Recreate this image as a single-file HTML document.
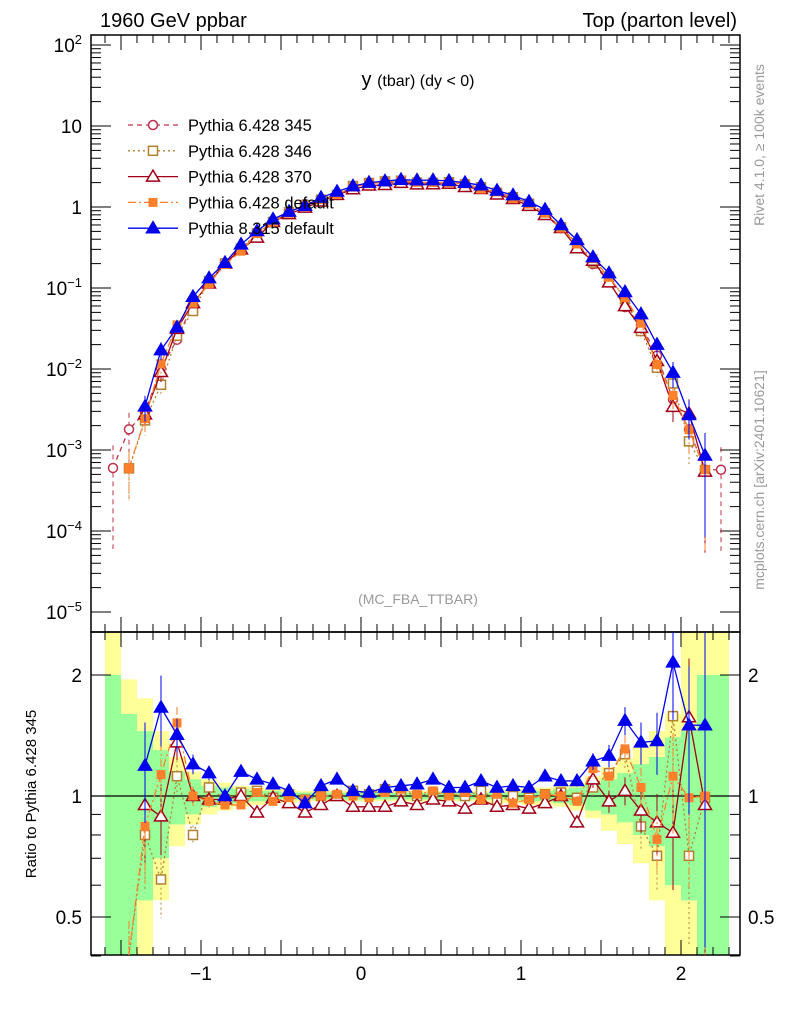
<!DOCTYPE html>
<html><head><meta charset="utf-8"><style>
body{margin:0;background:#fff;width:786px;height:1024px;overflow:hidden}
svg{font-family:"Liberation Sans",sans-serif}
</style></head><body>
<svg id="plot" width="786" height="1024" viewBox="0 0 786 1024" xmlns="http://www.w3.org/2000/svg">
<text x="100" y="27" font-size="20">1960 GeV ppbar</text>
<text x="737" y="27" font-size="20" text-anchor="end">Top (parton level)</text>
<text x="418" y="86" font-size="20" text-anchor="middle">y <tspan font-size="16">(tbar) (dy &lt; 0)</tspan></text>
<text x="418" y="604" font-size="14" fill="#999" text-anchor="middle">(MC_FBA_TTBAR)</text>
<text transform="translate(764,145) rotate(-90)" font-size="14" fill="#999" text-anchor="middle">Rivet 4.1.0, ≥ 100k events</text>
<text transform="translate(764,480) rotate(-90)" font-size="14" fill="#999" text-anchor="middle">mcplots.cern.ch [arXiv:2401.10621]</text>
<text transform="translate(36,794) rotate(-90)" font-size="15" text-anchor="middle">Ratio to Pythia 6.428 345</text>
<g id="bands"></g><g id="axes"></g><g id="series"></g><g id="legend"></g>
</svg>
<script>
const bins=[-1.55,-1.45,-1.35,-1.25,-1.15,-1.05,-0.95,-0.85,-0.75,-0.65,-0.55,-0.45,-0.35,-0.25,-0.15,-0.05,0.05,0.15,0.25,0.35,0.45,0.55,0.65,0.75,0.85,0.95,1.05,1.15,1.25,1.35,1.45,1.55,1.65,1.75,1.85,1.95,2.05,2.15,2.25];
const refValues=[6e-4,1.8e-3,2.9e-3,0.0103,0.023,0.065,0.116,0.205,0.30,0.46,0.66,0.85,1.08,1.23,1.41,1.76,1.96,1.99,2.05,2.0,1.95,2.0,1.9,1.7,1.52,1.32,1.11,0.83,0.55,0.36,0.197,0.121,0.058,0.035,0.0146,0.0042,0.0018,5.7e-4,5.7e-4];
const ratio346=[null,0.33,0.80,0.62,1.12,0.80,1.05,0.98,1.02,1.03,0.99,1.01,0.98,1.0,1.0,1.03,1.01,1.04,1.03,1.0,1.02,1.01,1.0,1.03,0.98,1.0,0.99,1.01,1.02,0.99,1.05,1.14,1.27,0.84,0.71,1.58,0.71,0.99,null];
const ratio370=[null,null,0.95,0.89,1.36,1.0,0.98,0.98,1.0,0.91,0.99,0.96,0.91,0.95,1.0,0.94,0.94,0.94,0.97,0.95,0.98,0.97,0.93,0.98,0.94,0.95,0.93,0.96,1.0,0.86,1.10,0.97,1.03,0.92,0.86,0.81,1.57,0.95,null];
const ratioDef6=[null,0.33,0.84,1.13,1.52,1.0,0.97,0.95,0.95,1.02,0.97,0.99,0.98,1.0,1.01,1.0,0.99,1.02,1.04,1.01,1.03,1.0,1.02,0.98,1.01,0.96,0.98,1.01,1.0,0.97,1.17,1.12,1.31,1.05,0.78,1.12,0.99,1.0,null];
const ratioP8=[null,null,1.19,1.66,1.42,1.20,1.14,1.0,1.15,1.10,1.07,1.03,0.96,1.06,1.10,1.03,1.02,1.05,1.06,1.07,1.10,1.05,1.05,1.09,1.05,1.06,1.05,1.12,1.09,1.09,1.22,1.26,1.54,1.36,1.37,2.15,1.5,1.5,null];
const relErr=[0.9,0.6,0.35,0.25,0.12,0.07,0.05,0.04,0.03,0.025,0.02,0.02,0.02,0.02,0.02,0.02,0.02,0.02,0.02,0.02,0.02,0.02,0.02,0.02,0.02,0.025,0.03,0.03,0.03,0.04,0.06,0.08,0.1,0.15,0.22,0.35,0.5,0.9,0.9];
const greenHi=[2.0,1.6,1.45,1.3,1.15,1.1,1.06,1.05,1.04,1.03,1.03,1.02,1.02,1.02,1.02,1.02,1.02,1.02,1.02,1.02,1.02,1.02,1.02,1.02,1.02,1.02,1.03,1.03,1.04,1.05,1.08,1.1,1.14,1.2,1.25,1.4,1.45,2.0,2.0];
const yellowHi=[2.6,1.95,1.75,1.45,1.25,1.15,1.1,1.08,1.06,1.05,1.04,1.04,1.03,1.03,1.03,1.03,1.03,1.03,1.03,1.03,1.03,1.03,1.03,1.03,1.04,1.04,1.05,1.05,1.06,1.08,1.12,1.18,1.24,1.32,1.45,1.6,2.6,2.6,2.6];
const mainTicks=[{v:100,t:"10",e:"2"},{v:10,t:"10",e:""},{v:1,t:"1",e:""},{v:0.1,t:"10",e:"−1"},{v:0.01,t:"10",e:"−2"},{v:0.001,t:"10",e:"−3"},{v:1e-4,t:"10",e:"−4"},{v:1e-5,t:"10",e:"−5"}];
const ratioTicks=[2,1,0.5];
const xTicks=[-1,0,1,2];

const NS="http://www.w3.org/2000/svg";
const L=91,R=740,T=35,MB=632,RB=955;
const X=x=>361+160*x;
const Y=v=>207-81*Math.log10(v);
const RY=r=>796-402*Math.log10(r);
function mk(p,tag,at){const e=document.createElementNS(NS,tag);for(const k in at)e.setAttribute(k,at[k]);p.appendChild(e);return e;}
const bandsG=document.getElementById('bands'),axesG=document.getElementById('axes'),serG=document.getElementById('series'),legG=document.getElementById('legend');
function clampR(y){return Math.max(MB,Math.min(RB,y));}
bins.forEach((b,i)=>{
 const x0=X(b-0.05),x1=X(b+0.05);
 const yl=2-yellowHi[i],gl=2-greenHi[i];
 const y1=clampR(RY(yellowHi[i])),y2=yl>0?clampR(RY(yl)):RB;
 const r=mk(bandsG,'rect',{x:x0,y:y1,width:x1-x0,height:y2-y1,fill:'#ffff99'});
 
 
 const g1=clampR(RY(greenHi[i])),g2=gl>0?clampR(RY(gl)):RB;
 const g=mk(bandsG,'rect',{x:x0,y:g1,width:x1-x0,height:g2-g1,fill:'#99ff99'});
 
 
});
[[T,MB],[MB,RB]].forEach(([a,b])=>{const f=mk(axesG,'rect',{x:L,y:a,width:R-L,height:b-a,fill:'none',stroke:'#000','stroke-width':1.5});
});
mk(axesG,'line',{x1:L,x2:R,y1:RY(1),y2:RY(1),stroke:'#000','stroke-width':1.2});
for(let d=-5;d<=2;d++){for(let m=1;m<10;m++){const v=m*Math.pow(10,d);const y=Y(v);if(y<T||y>MB)continue;const len=m==1?20:10;
mk(axesG,'line',{x1:L,x2:L+len,y1:y,y2:y,stroke:'#000'});mk(axesG,'line',{x1:R,x2:R-len,y1:y,y2:y,stroke:'#000'});}}
mainTicks.forEach(t=>{const y=Y(t.v);const tx=mk(axesG,'text',{x:82,y:y+7,'font-size':19,'text-anchor':'end'});

if(t.e){tx.textContent=t.t;const s=mk(tx,'tspan',{dy:-8,'font-size':13});s.textContent=t.e;}else tx.textContent=t.t;});
[0.4,0.5,0.6,0.7,0.8,0.9,1,2].forEach(v=>{const y=RY(v);const len=(v==0.5||v==1||v==2)?20:10;
mk(axesG,'line',{x1:L,x2:L+len,y1:y,y2:y,stroke:'#000'});mk(axesG,'line',{x1:R,x2:R-len,y1:y,y2:y,stroke:'#000'});});
ratioTicks.forEach(v=>{const y=RY(v)+7;[[82,'end'],[748,'start']].forEach(([x,a])=>{const t=mk(axesG,'text',{x:x,y:y,'font-size':19,'text-anchor':a});t.textContent=String(v);
});});
for(let k=-17;k<=23;k++){const x=X(k/10);if(x<L||x>R)continue;const len=k%5==0?15:8;
[[T,1],[MB,-1],[MB,1],[RB,-1]].forEach(([y0,s])=>mk(axesG,'line',{x1:x,x2:x,y1:y0,y2:y0+s*len,stroke:'#000'}));}
xTicks.forEach(v=>{const t=mk(axesG,'text',{x:X(v),y:980,'font-size':19,'text-anchor':'middle'});t.textContent=v<0?'−'+(-v):String(v);
});
const series=[
 {name:'pythia-6428-345',label:'Pythia 6.428 345',ratio:bins.map((b,i)=>refValues[i]!=null?1:null),col:'#c0304a',dash:'5,4',m:'circle'},
 {name:'pythia-6428-346',label:'Pythia 6.428 346',ratio:ratio346,col:'#b08030',dash:'2,3',m:'square'},
 {name:'pythia-6428-370',label:'Pythia 6.428 370',ratio:ratio370,col:'#a00018',dash:'',m:'triangle'},
 {name:'pythia-6428-default',label:'Pythia 6.428 default',ratio:ratioDef6,col:'#ff7f2a',dash:'8,3,2,3',m:'fsquare'},
 {name:'pythia-8315-default',label:'Pythia 8.315 default',ratio:ratioP8,col:'#0000ee',dash:'',m:'ftriangle'}];
function marker(g,type,x,y,c){
 if(type=='circle')return mk(g,'circle',{cx:x,cy:y,r:4.5,fill:'#fff',stroke:c,'stroke-width':1.5});
 if(type=='square')return mk(g,'rect',{x:x-4.5,y:y-4.5,width:9,height:9,fill:'#fff',stroke:c,'stroke-width':1.5});
 if(type=='fsquare')return mk(g,'rect',{x:x-4.5,y:y-4.5,width:9,height:9,fill:c});
 const p=`${x},${y-6.5} ${x+6.5},${y+4.5} ${x-6.5},${y+4.5}`;
 return mk(g,'polygon',{points:p,fill:type=='ftriangle'?c:'#fff',stroke:c,'stroke-width':1.5});}
function clip(y,a,b){return Math.max(a,Math.min(b,y));}
series.forEach((s,si)=>{
 const g=mk(serG,'g',{});
 const mp=[],rp=[];
 bins.forEach((b,i)=>{const r=s.ratio[i];if(r==null)return;const v=refValues[i]*r;const x=X(b);
  const e=relErr[i];const ym=Y(v),yu=Y(v*(1+e)),yd=v*(1-e)>0?Y(v*(1-e)):MB;
  mk(g,'line',{x1:x,x2:x,y1:clip(yu,T,MB),y2:clip(yd,T,MB),stroke:s.col,'stroke-dasharray':s.dash});
  mp.push([x,ym]);
  const ry=RY(r),ru=RY(r*(1+e*0.8)),rd=r*(1-e*0.8)>0?RY(r*(1-e*0.8)):RB;
  if(si>0){mk(g,'line',{x1:x,x2:x,y1:clip(ru,MB,RB),y2:clip(rd,MB,RB),stroke:s.col,'stroke-dasharray':s.dash});}
  rp.push([x,ry]);});
 mk(g,'polyline',{points:mp.map(p=>p.join(',')).join(' '),fill:'none',stroke:s.col,'stroke-width':1.3,'stroke-dasharray':s.dash});
 if(si>0){mk(g,'polyline',{points:rp.map(p=>p[0]+','+clip(p[1],MB,RB)).join(' '),fill:'none',stroke:s.col,'stroke-width':1.3,'stroke-dasharray':s.dash});}
 mp.forEach(p=>{const m=marker(g,s.m,p[0],p[1],s.col);});
 if(si>0)rp.forEach(p=>{if(p[1]<MB||p[1]>RB)return;const m=marker(g,s.m,p[0],p[1],s.col);});
 const ly=125+si*25.8;
 const lg=mk(legG,'g',{});
 mk(lg,'line',{x1:128,x2:178,y1:ly,y2:ly,stroke:s.col,'stroke-width':1.3,'stroke-dasharray':s.dash});
 marker(lg,s.m,153,ly,s.col);
 const t=mk(lg,'text',{x:188,y:ly+6,'font-size':16.5});t.textContent=s.label;
});
</script>
</body></html>
